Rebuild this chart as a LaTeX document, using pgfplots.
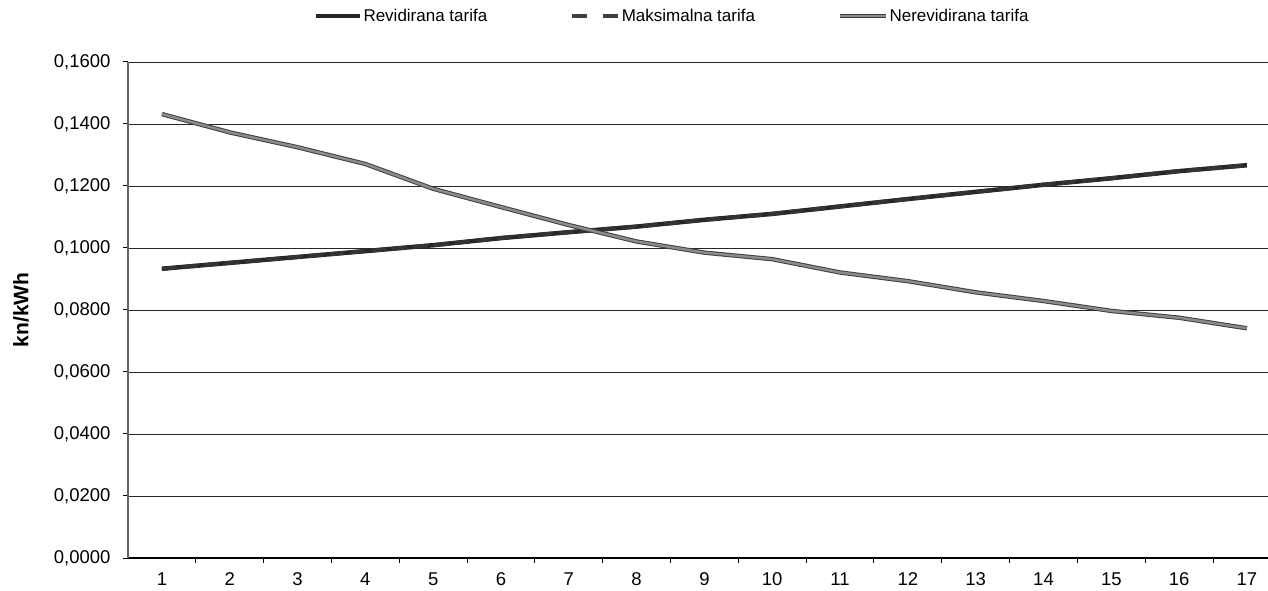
\documentclass[border=0pt]{standalone}
\usepackage{fontspec}
\setmainfont{Liberation Sans}
\usepackage{pgfplots}
\pgfplotsset{compat=1.18}
\pgfplotstableread{
x rev nerev
1  0.0933 0.1432
2  0.0952 0.1373
3  0.0971 0.1325
4  0.0990 0.1271
5  0.1009 0.1191
6  0.1032 0.1132
7  0.1051 0.1074
8  0.1069 0.1021
9  0.1091 0.0985
10 0.1110 0.0964
11 0.1134 0.0921
12 0.1158 0.0893
13 0.1181 0.0857
14 0.1204 0.0829
15 0.1225 0.0797
16 0.1248 0.0775
17 0.1267 0.0741
}\datatable
\begin{document}
\begin{tikzpicture}
\begin{axis}[
  at={(0,0)}, anchor=south west,
  scale only axis,
  width=1140bp, height=496bp,
  xmin=0.5, xmax=17.31,
  ymin=0, ymax=0.16,
  axis x line*=bottom, axis y line*=left,
  x axis line style={black, line width=1.2bp, -},
  y axis line style={black!60, line width=1.2bp, -},
  xtick={1,...,17},
  minor xtick={1.5,2.5,...,16.5},
  major x tick style={draw=none},
  minor x tick style={black, line width=1bp},
  ytick={0,0.02,...,0.161},
  major y tick style={black, line width=1bp},
  tick align=outside,
  major tick length=5bp, minor tick length=5bp,
  ymajorgrids,
  major grid style={black!85, line width=0.9bp},
  /pgf/number format/assume math mode=true,
  yticklabel={\pgfmathprintnumber[fixed, fixed zerofill, precision=4, use comma]{\tick}},
  tick label style={font=\fontsize{18.5bp}{20bp}\selectfont},
  yticklabel style={xshift=-9bp},
  xticklabel style={anchor=north, text height=13bp, text depth=0bp, yshift=-6bp},
  ylabel={\textbf{kn/kWh}},
  ylabel style={at={(rel axis cs:0,0.5)}, anchor=center, yshift=107bp, font=\fontsize{21bp}{23bp}\selectfont},
  legend columns=3,
  legend style={at={(rel axis cs:0.163,1.093)}, anchor=west, draw=none, fill=none, inner sep=0pt,
    font=\fontsize{17bp}{19bp}\selectfont,
    /tikz/every even column/.append style={column sep=81bp},
    nodes={inner sep=2bp}},
  legend cell align=left,
  clip=false,
]
\addplot[black!85, line width=4.5bp,
  legend image code/.code={\draw[black!85, line width=3.5bp] (0bp,0bp) -- (44bp,0bp);}]
  table[x=x, y=rev] {\datatable};
\addlegendentry{Revidirana tarifa}
\addplot[black!80, line width=4bp, dash pattern=on 15bp off 6bp,
  legend image code/.code={\draw[black!75, line width=3.5bp, dash pattern=on 15bp off 16bp] (0bp,0bp) -- (46bp,0bp);}]
  table[x=x, y=rev] {\datatable};
\addlegendentry{Maksimalna tarifa}
\addplot[draw=black!75, line width=1bp, double=black!45, double distance=2.4bp,
  legend image code/.code={\draw[draw=black!75, line width=1bp, double=black!45, double distance=1.6bp] (0bp,0bp) -- (46bp,0bp);}]
  table[x=x, y=nerev] {\datatable};
\addlegendentry{Nerevidirana tarifa}
\end{axis}
\pgfresetboundingbox
\path[use as bounding box] (-128bp,-33bp) rectangle (1140bp,558bp);
\end{tikzpicture}
\end{document}
